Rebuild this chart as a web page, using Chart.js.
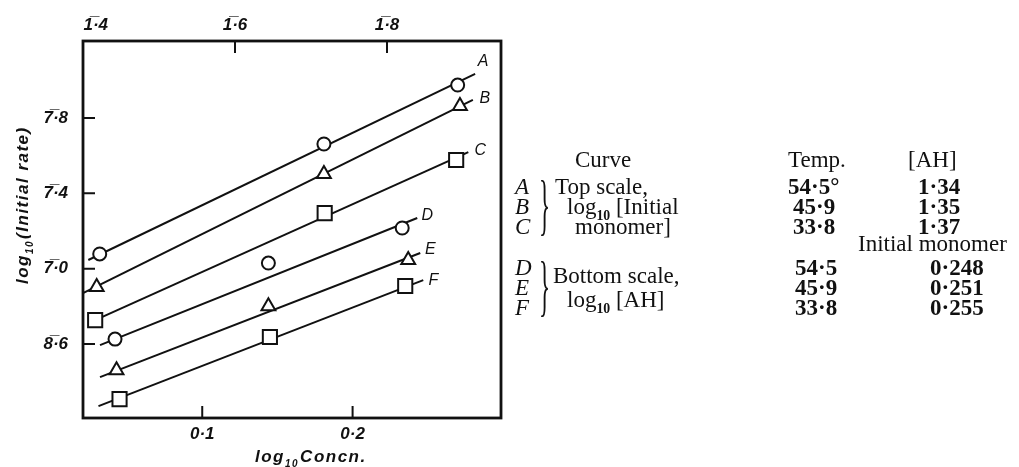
<!DOCTYPE html>
<html lang="en">
<head>
    <meta charset="UTF-8">
    <title>log10 initial rate vs log10 concentration</title>
    <script src="https://cdn.jsdelivr.net/npm/chart.js"></script>
    <style>
        body {
            margin: 0;
            background: #fff;
        }
        .wrap {
            position: relative;
            width: 1019px;
            height: 467px;
            overflow: hidden;
        }
        #chart {
            position: absolute;
            left: 0;
            top: 0;
        }
        .t {
            position: absolute;
            font-family: 'Liberation Serif', serif;
            font-size: 23px;
            line-height: 22px;
            color: #111;
            white-space: nowrap;
        }
        .t i { font-style: italic; }
        .t b { font-weight: bold; }
        .t sub {
            font-size: 0.6em;
            font-weight: bold;
            line-height: 0;
        }
        .brace {
            position: absolute;
            font-family: 'Liberation Serif', serif;
            font-size: 23px;
            line-height: 22px;
            transform: scale(1, 2.9);
            transform-origin: 0 50%;
            color: #111;
        }
    </style>
</head>
<body>
<div class="wrap">
    <canvas id="chart" width="1019" height="467"></canvas>

    <div class="t" style="left:575px; top:149px;">Curve</div>
    <div class="t" style="left:788px; top:149px;">Temp.</div>
    <div class="t" style="left:908px; top:149px;">[AH]</div>

    <div class="t" style="left:515px; top:176px;"><i>A</i></div>
    <div class="t" style="left:515px; top:196px;"><i>B</i></div>
    <div class="t" style="left:515px; top:216px;"><i>C</i></div>
    <div class="brace" style="left:539px; top:196px;">}</div>
    <div class="t" style="left:555px; top:176px;">Top scale,</div>
    <div class="t" style="left:567px; top:196px;">log<sub>10</sub> [Initial</div>
    <div class="t" style="left:575px; top:216px;">monomer]</div>
    <div class="t" style="left:788px; top:176px;"><b>54·5°</b></div>
    <div class="t" style="left:793px; top:196px;"><b>45·9</b></div>
    <div class="t" style="left:793px; top:216px;"><b>33·8</b></div>
    <div class="t" style="left:918px; top:176px;"><b>1·34</b></div>
    <div class="t" style="left:918px; top:196px;"><b>1·35</b></div>
    <div class="t" style="left:918px; top:216px;"><b>1·37</b></div>

    <div class="t" style="left:858px; top:233px;">Initial monomer</div>

    <div class="t" style="left:515px; top:257px;"><i>D</i></div>
    <div class="t" style="left:515px; top:277px;"><i>E</i></div>
    <div class="t" style="left:515px; top:297px;"><i>F</i></div>
    <div class="brace" style="left:539px; top:277px;">}</div>
    <div class="t" style="left:553px; top:265px;">Bottom scale,</div>
    <div class="t" style="left:567px; top:289px;">log<sub>10</sub> [AH]</div>
    <div class="t" style="left:795px; top:257px;"><b>54·5</b></div>
    <div class="t" style="left:795px; top:277px;"><b>45·9</b></div>
    <div class="t" style="left:795px; top:297px;"><b>33·8</b></div>
    <div class="t" style="left:930px; top:257px;"><b>0·248</b></div>
    <div class="t" style="left:930px; top:277px;"><b>0·251</b></div>
    <div class="t" style="left:930px; top:297px;"><b>0·255</b></div>
</div>

<script>
// tick values
const topTicks = [-0.6, -0.4, -0.2];      // log10 [initial monomer], top scale
const bottomTicks = [0.1, 0.2];           // log10 [AH], bottom scale
const rateTicks = [-7.4, -7.0, -6.6, -6.2];

// curves A-C : top scale
const monomerA = [-0.578, -0.283, -0.107];
const rateA    = [-6.922, -6.338, -6.025];
const monomerB = [-0.582, -0.283, -0.104];
const rateB    = [-7.098, -6.497, -6.136];
const monomerC = [-0.584, -0.282, -0.109];
const rateC    = [-7.273, -6.705, -6.423];

// curves D-F : bottom scale
const acidD = [0.042, 0.144, 0.233];
const rateD = [-7.374, -6.970, -6.784];
const acidE = [0.043, 0.144, 0.237];
const rateE = [-7.539, -7.199, -6.954];
const acidF = [0.045, 0.145, 0.235];
const rateF = [-7.693, -7.363, -7.092];

// drawn straight lines (ends)
const fitXA = [-0.593, -0.084], fitYA = [-6.954, -5.966];
const fitXB = [-0.600, -0.087], fitYB = [-7.130, -6.104];
const fitXC = [-0.584, -0.093], fitYC = [-7.273, -6.381];
const fitXD = [0.032, 0.243],   fitYD = [-7.406, -6.731];
const fitXE = [0.032, 0.245],   fitYE = [-7.576, -6.917];
const fitXF = [0.031, 0.247],   fitYF = [-7.730, -7.061];

const curveNames = ['A', 'B', 'C', 'D', 'E', 'F'];

const ink = '#111';
const tickFont = { family: "'Liberation Sans', sans-serif", size: 17, style: 'italic', weight: 'bold' };

function pts(xs, ys) {
    return xs.map((x, i) => ({ x: x, y: ys[i] }));
}

// bar notation, e.g. -6.2 -> 7̄·8
function barLabel(v) {
    const c = Math.floor(v + 1e-9);
    const m = Math.round((v - c) * 10);
    return Math.abs(c) + '\u0305·' + m;
}

function fixTicks(list) {
    return function (scale) {
        scale.ticks = list.map(v => ({ value: v }));
    };
}

const markerSets = [
    { xs: monomerA, ys: rateA, axis: 'x2', style: 'circle',   r: 6.5 },
    { xs: monomerB, ys: rateB, axis: 'x2', style: 'triangle', r: 8 },
    { xs: monomerC, ys: rateC, axis: 'x2', style: 'rect',     r: 10 },
    { xs: acidD,    ys: rateD, axis: 'x',  style: 'circle',   r: 6.5 },
    { xs: acidE,    ys: rateE, axis: 'x',  style: 'triangle', r: 8 },
    { xs: acidF,    ys: rateF, axis: 'x',  style: 'rect',     r: 10 }
];
const lineSets = [
    { xs: fitXA, ys: fitYA, axis: 'x2', dx: 8,  dy: -12 },
    { xs: fitXB, ys: fitYB, axis: 'x2', dx: 12, dy: -1 },
    { xs: fitXC, ys: fitYC, axis: 'x2', dx: 12, dy: -2 },
    { xs: fitXD, ys: fitYD, axis: 'x',  dx: 10, dy: -2 },
    { xs: fitXE, ys: fitYE, axis: 'x',  dx: 10, dy: -3 },
    { xs: fitXF, ys: fitYF, axis: 'x',  dx: 10, dy: 0 }
];

const datasets = [];
lineSets.forEach((s, i) => {
    datasets.push({
        label: 'line ' + curveNames[i],
        data: pts(s.xs, s.ys),
        xAxisID: s.axis,
        yAxisID: 'y',
        showLine: true,
        borderColor: ink,
        borderWidth: 2,
        pointRadius: 0,
        order: 2
    });
});
markerSets.forEach((s, i) => {
    datasets.push({
        label: curveNames[i],
        data: pts(s.xs, s.ys),
        xAxisID: s.axis,
        yAxisID: 'y',
        showLine: false,
        pointStyle: s.style,
        pointRadius: s.r,
        pointBackgroundColor: '#fff',
        pointBorderColor: ink,
        pointBorderWidth: 2,
        order: 1
    });
});

// frame, inward ticks, axis titles and curve letters
const decorations = {
    id: 'decorations',
    afterDraw(chart) {
        const { ctx, chartArea: a, scales } = chart;
        ctx.save();
        ctx.strokeStyle = ink;
        ctx.fillStyle = ink;
        ctx.lineWidth = 2.8;
        ctx.strokeRect(a.left, a.top, a.right - a.left, a.bottom - a.top);

        ctx.lineWidth = 2;
        const len = 12;
        ctx.beginPath();
        scales.x.ticks.forEach(t => {
            const px = scales.x.getPixelForValue(t.value);
            ctx.moveTo(px, a.bottom); ctx.lineTo(px, a.bottom - len);
        });
        scales.x2.ticks.forEach(t => {
            const px = scales.x2.getPixelForValue(t.value);
            ctx.moveTo(px, a.top); ctx.lineTo(px, a.top + len);
        });
        scales.y.ticks.forEach(t => {
            const py = scales.y.getPixelForValue(t.value);
            ctx.moveTo(a.left, py); ctx.lineTo(a.left + len, py);
        });
        ctx.stroke();

        // curve letters next to the line ends
        ctx.font = "italic 16px 'Liberation Sans', sans-serif";
        ctx.textAlign = 'center';
        ctx.textBaseline = 'middle';
        lineSets.forEach((s, i) => {
            const px = scales[s.axis].getPixelForValue(s.xs[1]);
            const py = scales.y.getPixelForValue(s.ys[1]);
            ctx.fillText(curveNames[i], px + s.dx, py + s.dy);
        });

        // axis titles with a lowered "10"
        ctx.textAlign = 'left';
        ctx.textBaseline = 'alphabetic';
        ctx.letterSpacing = '1.5px';
        const big = "italic bold 17px 'Liberation Sans', sans-serif";
        const small = "italic bold 10px 'Liberation Sans', sans-serif";
        function subTitle(x, y, pre, sub, post) {
            ctx.font = big;
            ctx.fillText(pre, x, y);
            let w = ctx.measureText(pre).width;
            ctx.font = small;
            ctx.fillText(sub, x + w, y + 5);
            w += ctx.measureText(sub).width + 1;
            ctx.font = big;
            ctx.fillText(post, x + w, y);
        }
        subTitle(255, 462, 'log', '10', 'Concn.');

        ctx.translate(28, 284);
        ctx.rotate(-Math.PI / 2);
        subTitle(0, 0, 'log', '10', '(Initial rate)');
        ctx.restore();
    }
};

new Chart(document.getElementById('chart'), {
    type: 'scatter',
    data: { datasets: datasets },
    options: {
        responsive: false,
        animation: false,
        devicePixelRatio: 1,
        layout: { padding: { left: 0, right: 518, top: 0, bottom: 0 } },
        plugins: {
            legend: { display: false },
            tooltip: { enabled: false }
        },
        scales: {
            x: {
                type: 'linear',
                position: 'bottom',
                min: 0.0207,
                max: 0.2987,
                afterBuildTicks: fixTicks(bottomTicks),
                afterFit: s => { s.height = 49; },
                grid: { display: false, drawTicks: false },
                border: { display: false },
                ticks: {
                    color: ink,
                    font: tickFont,
                    padding: 6,
                    maxRotation: 0,
                    autoSkip: false,
                    callback: v => v.toFixed(1).replace('.', '·')
                }
            },
            x2: {
                type: 'linear',
                position: 'top',
                min: -0.6,
                max: -0.05,
                afterBuildTicks: fixTicks(topTicks),
                afterFit: s => { s.height = 41; },
                grid: { display: false, drawTicks: false },
                border: { display: false },
                ticks: {
                    color: ink,
                    font: tickFont,
                    padding: 5,
                    maxRotation: 0,
                    autoSkip: false,
                    callback: (v, i) => (i === 0 ? '\u2002\u2002\u2002' : '') + barLabel(v)
                }
            },
            y: {
                type: 'linear',
                position: 'left',
                min: -7.793,
                max: -5.791,
                afterBuildTicks: fixTicks(rateTicks),
                afterFit: s => { s.width = 83; },
                grid: { display: false, drawTicks: false },
                border: { display: false },
                ticks: {
                    color: ink,
                    font: tickFont,
                    padding: 15,
                    autoSkip: false,
                    callback: v => barLabel(v)
                }
            }
        }
    },
    plugins: [decorations]
});
</script>
</body>
</html>
